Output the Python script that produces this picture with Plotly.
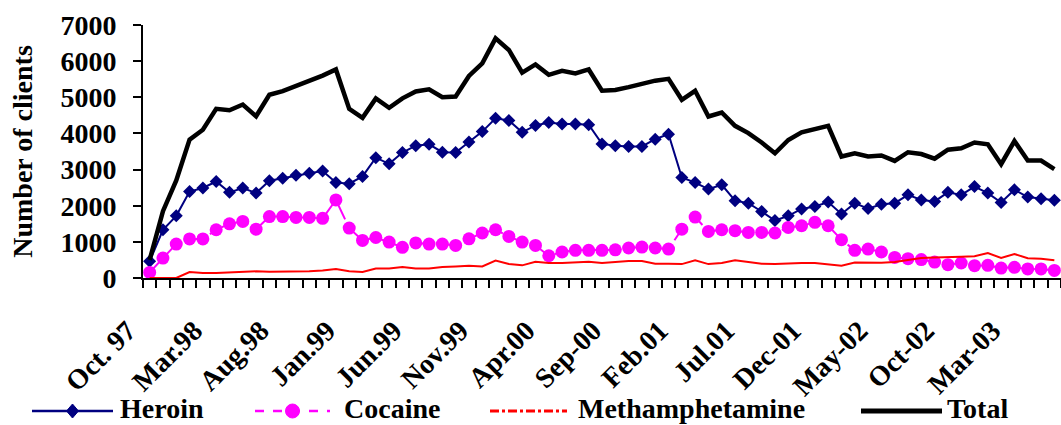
import plotly.graph_objects as go

# Monthly client counts, Oct 1997 - Jun 2003
months = list(range(69))

heroin = [460, 1335, 1720, 2390, 2490, 2670, 2370, 2490, 2350, 2690,
          2760, 2840, 2900, 2960, 2640, 2610, 2810, 3330, 3160, 3470,
          3660, 3700, 3480, 3470, 3760, 4050, 4420, 4360, 4030, 4220,
          4300, 4260, 4260, 4240, 3710, 3660, 3640, 3640, 3840, 3980,
          2780, 2640, 2460, 2580, 2140, 2070, 1840, 1590, 1720, 1910,
          1980, 2100, 1770, 2070, 1920, 2040, 2070, 2300, 2160, 2120,
          2370, 2300, 2530, 2350, 2090, 2440, 2240, 2190, 2150]

cocaine = [155, 550, 940, 1080, 1080, 1335, 1500, 1565, 1350, 1700,
           1700, 1675, 1675, 1650, 2160, 1380, 1040, 1120, 995, 850,
           970, 940, 940, 900, 1085, 1245, 1335, 1150, 995, 900,
           615, 720, 765, 765, 765, 780, 830, 855, 830, 800,
           1350, 1685, 1290, 1335, 1310, 1260, 1260, 1245, 1400, 1445,
           1540, 1445, 1060, 765, 800, 720, 570, 535, 510, 440,
           370, 415, 340, 350, 275, 295, 250, 250, 210]

methamphetamine = [0, 0, 0, 165, 140, 140, 155, 165, 185, 175,
                   175, 180, 190, 210, 250, 185, 165, 260, 265, 305,
                   260, 260, 305, 320, 340, 320, 480, 385, 350, 450,
                   415, 415, 425, 450, 415, 450, 470, 470, 395, 395,
                   385, 490, 385, 415, 490, 440, 395, 385, 405, 415,
                   415, 385, 340, 430, 425, 425, 440, 490, 555, 570,
                   570, 590, 600, 690, 555, 665, 545, 535, 490]

total = [500, 1850, 2700, 3830, 4100, 4680, 4640, 4800, 4475, 5070,
         5170, 5310, 5450, 5600, 5770, 4680, 4430, 4970, 4710, 4970,
         5160, 5220, 5000, 5020, 5590, 5940, 6630, 6310, 5680, 5910,
         5620, 5730, 5660, 5770, 5180, 5200, 5280, 5370, 5460, 5510,
         4930, 5180, 4470, 4580, 4210, 4010, 3750, 3450, 3820, 4030,
         4130, 4210, 3360, 3450, 3360, 3390, 3240, 3480, 3430, 3300,
         3550, 3590, 3750, 3700, 3150, 3790, 3250, 3250, 3010]

tick_positions = [0, 5, 10, 15, 20, 25, 30, 35, 40, 45, 50, 55, 60, 65]
tick_labels = ["Oct. 97", "Mar.98", "Aug.98", "Jan.99", "Jun.99", "Nov.99",
               "Apr.00", "Sep-00", "Feb.01", "Jul.01", "Dec-01", "May-02",
               "Oct-02", "Mar-03"]

FONT = "Liberation Serif"

W, H = 1061, 425
ML, MR, MT, MB = 143, 0, 25, 147
PW, PH = W - ML - MR, H - MT - MB


def px(x):
    return (x - ML) / PW


def py(y):
    return (H - MB - y) / PH


fig = go.Figure()

fig.add_trace(go.Scatter(
    x=months, y=heroin, name="Heroin", mode="lines+markers",
    line=dict(color="#000080", width=2),
    marker=dict(symbol="diamond", size=10, color="#000080"),
))
fig.add_trace(go.Scatter(
    x=months, y=cocaine, name="Cocaine", mode="lines+markers",
    line=dict(color="#FF00FF", width=2, dash="17px,8px"),
    marker=dict(symbol="circle", size=13, color="#FF00FF"),
))
fig.add_trace(go.Scatter(
    x=months, y=methamphetamine, name="Methamphetamine", mode="lines",
    line=dict(color="#FF0000", width=2),
))
fig.add_trace(go.Scatter(
    x=months, y=total, name="Total", mode="lines",
    line=dict(color="black", width=4.5),
))

# Legend row drawn below the axis
shapes = []
annotations = []
leg_y = 411
legend_items = [
    # name, line start, line end, text x, colour, width, dash, marker
    ("Heroin", 32, 113, 119, "#000080", 2.5, "solid", "diamond"),
    ("Cocaine", 255, 330, 343, "#FF00FF", 2.5, "dash", "circle"),
    ("Methamphetamine", 490, 567, 577, "#FF0000", 3, "dashdot", None),
    ("Total", 861, 942, 946, "black", 5, "solid", None),
]
for name, x0, x1, tx, col, lw, dash, mk in legend_items:
    shapes.append(dict(type="line", xref="paper", yref="paper",
                       x0=px(x0), x1=px(x1), y0=py(leg_y), y1=py(leg_y),
                       line=dict(color=col, width=lw, dash=dash)))
    xc = (x0 + x1) / 2
    if mk == "diamond":
        path = "M {} {} L {} {} L {} {} L {} {} Z".format(
            px(xc), py(leg_y - 7), px(xc + 6), py(leg_y),
            px(xc), py(leg_y + 7), px(xc - 6), py(leg_y))
        shapes.append(dict(type="path", xref="paper", yref="paper", path=path,
                           fillcolor=col, line=dict(color=col, width=1)))
    elif mk == "circle":
        shapes.append(dict(type="circle", xref="paper", yref="paper",
                           x0=px(xc - 7), x1=px(xc + 7),
                           y0=py(leg_y + 7), y1=py(leg_y - 7),
                           fillcolor=col, line=dict(color=col, width=1)))
    annotations.append(dict(text=name, xref="paper", yref="paper",
                            x=px(tx), y=py(H), xanchor="left",
                            yanchor="bottom", showarrow=False, borderpad=0,
                            font=dict(family=FONT, size=28, color="black",
                                      weight="bold")))

fig.update_layout(
    width=W, height=H,
    margin=dict(l=ML, r=MR, t=MT, b=MB),
    paper_bgcolor="white", plot_bgcolor="white",
    font=dict(family=FONT, size=28, color="black"),
    showlegend=False,
    shapes=shapes,
    annotations=annotations,
)

fig.update_xaxes(
    range=[-0.5, 68.5],
    tickmode="array", tickvals=tick_positions, ticktext=tick_labels,
    tickangle=-45, ticks="", ticklabelstandoff=23, ticklabelshift=-22,
    tickfont=dict(family=FONT, size=28, color="black", weight="bold"),
    showline=True, linecolor="black", linewidth=2,
    showgrid=False, zeroline=False,
    minor=dict(ticks="outside", ticklen=8, tickwidth=2, tickcolor="black",
               tickmode="linear", tick0=-0.5, dtick=1, showgrid=False),
)

fig.update_yaxes(
    range=[0, 7000], dtick=1000, tick0=0,
    ticks="outside", ticklen=8, tickwidth=2, tickcolor="black",
    ticklabelstandoff=11,
    tickfont=dict(family=FONT, size=28, color="black", weight="bold"),
    showline=True, linecolor="black", linewidth=2,
    showgrid=False, zeroline=False,
    title=dict(text="Number of clients", standoff=20,
               font=dict(family=FONT, size=28, color="black", weight="bold")),
)

fig.write_html("out.html")
